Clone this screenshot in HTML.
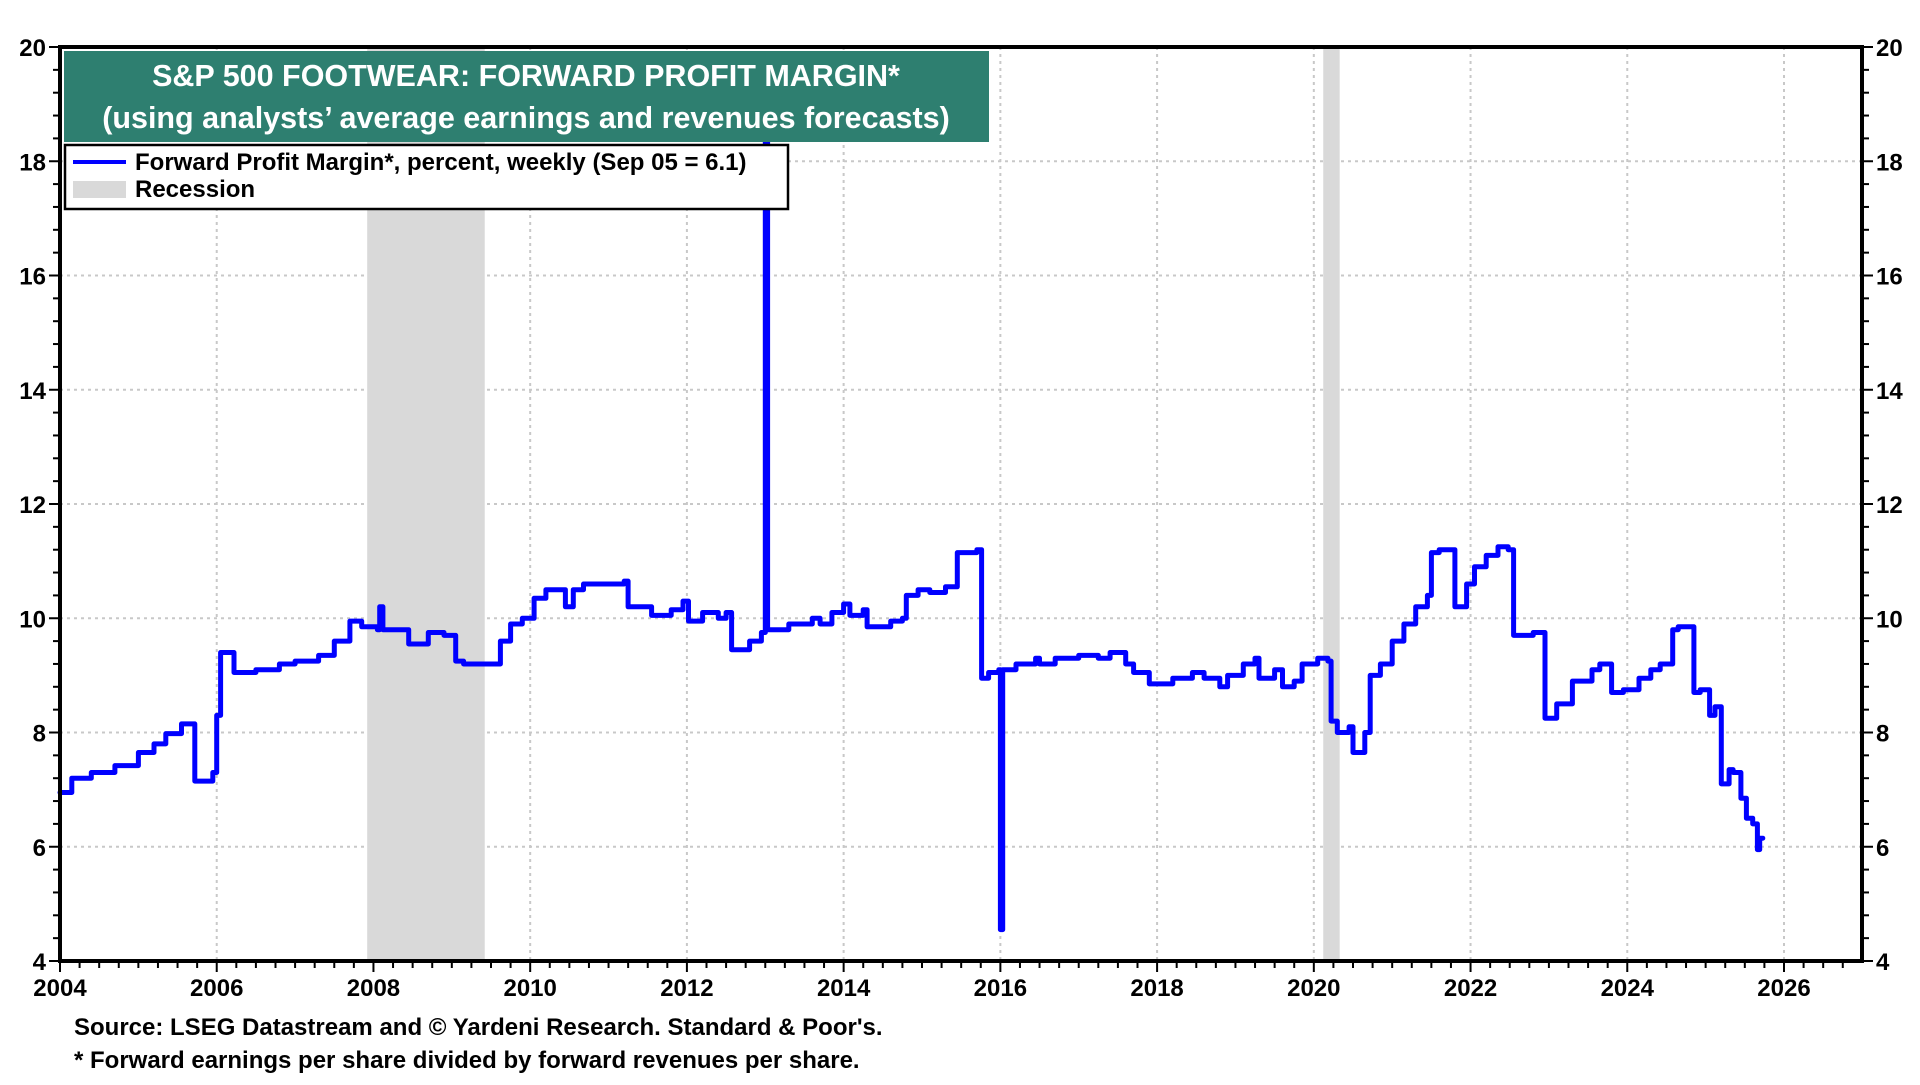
<!DOCTYPE html>
<html><head><meta charset="utf-8">
<style>
html,body{margin:0;padding:0;background:#fff;}
body{width:1920px;height:1080px;overflow:hidden;font-family:"Liberation Sans",Arial,sans-serif;}
</style></head>
<body>
<svg id="chart" width="1920" height="1080" xmlns="http://www.w3.org/2000/svg" font-family="Liberation Sans, Arial, sans-serif">
<g id="grid"></g>
<g id="rec"></g>
<g id="series"></g>
<g id="axes"></g>
<g>
<rect x="64" y="51" width="925" height="91" fill="#2e7f70"/>
<text x="526" y="86" text-anchor="middle" font-size="30.5" font-weight="bold" fill="#fff">S&amp;P 500 FOOTWEAR: FORWARD PROFIT MARGIN*</text>
<text x="526" y="128" text-anchor="middle" font-size="30.5" font-weight="bold" fill="#fff">(using analysts’ average earnings and revenues forecasts)</text>
</g>
<g>
<rect x="65" y="145" width="723" height="64" fill="#fff" stroke="#000" stroke-width="2.5"/>
<g>
<line x1="73" y1="162" x2="126" y2="162" stroke="#0000ff" stroke-width="4"/>
<text x="135" y="170" font-size="24" font-weight="bold">Forward Profit Margin*, percent, weekly (Sep 05 = 6.1)</text>
</g>
<g>
<rect x="73" y="181" width="53" height="17" fill="#d9d9d9"/>
<text x="135" y="197" font-size="24" font-weight="bold">Recession</text>
</g>
</g>
<text x="74" y="1035" font-size="24" font-weight="bold">Source: LSEG Datastream and © Yardeni Research. Standard &amp; Poor's.</text>
<text x="74" y="1068" font-size="24" font-weight="bold">* Forward earnings per share divided by forward revenues per share.</text>
</svg>
<script>
const dates=[2004.0,2004.15,2004.4,2004.7,2005.0,2005.2,2005.35,2005.55,2005.72,2005.95,2006.0,2006.05,2006.22,2006.5,2006.8,2007.0,2007.3,2007.5,2007.7,2007.85,2008.05,2008.08,2008.12,2008.45,2008.7,2008.9,2009.05,2009.15,2009.4,2009.62,2009.75,2009.9,2010.05,2010.2,2010.45,2010.55,2010.68,2010.95,2011.2,2011.25,2011.55,2011.8,2011.95,2012.02,2012.2,2012.4,2012.5,2012.57,2012.8,2012.95,2013.0,2013.03,2013.3,2013.6,2013.7,2013.85,2014.0,2014.08,2014.25,2014.3,2014.6,2014.75,2014.8,2014.95,2015.1,2015.3,2015.45,2015.7,2015.76,2015.85,2015.98,2016.0,2016.03,2016.2,2016.45,2016.5,2016.7,2017.0,2017.25,2017.4,2017.6,2017.7,2017.9,2018.2,2018.45,2018.6,2018.8,2018.9,2019.1,2019.25,2019.3,2019.5,2019.6,2019.75,2019.85,2020.05,2020.18,2020.22,2020.3,2020.45,2020.5,2020.65,2020.72,2020.85,2021.0,2021.15,2021.3,2021.45,2021.5,2021.6,2021.8,2021.95,2022.05,2022.2,2022.35,2022.48,2022.55,2022.8,2022.95,2023.1,2023.3,2023.55,2023.65,2023.8,2023.95,2024.15,2024.3,2024.42,2024.58,2024.65,2024.85,2024.93,2025.05,2025.12,2025.2,2025.3,2025.35,2025.45,2025.52,2025.6,2025.66,2025.69];
const values=[6.95,7.2,7.3,7.42,7.65,7.8,7.98,8.15,7.15,7.3,8.3,9.4,9.05,9.1,9.2,9.25,9.35,9.6,9.95,9.85,9.8,10.2,9.8,9.55,9.75,9.7,9.25,9.2,9.2,9.6,9.9,10.0,10.35,10.5,10.2,10.5,10.6,10.6,10.65,10.2,10.05,10.15,10.3,9.95,10.1,10.0,10.1,9.45,9.6,9.75,18.6,9.8,9.9,10.0,9.9,10.1,10.25,10.05,10.15,9.85,9.95,10.0,10.4,10.5,10.45,10.55,11.15,11.2,8.95,9.05,9.1,4.55,9.1,9.2,9.3,9.2,9.3,9.35,9.3,9.4,9.2,9.05,8.85,8.95,9.05,8.95,8.8,9.0,9.2,9.3,8.95,9.1,8.8,8.9,9.2,9.3,9.25,8.2,8.0,8.1,7.65,8.0,9.0,9.2,9.6,9.9,10.2,10.4,11.15,11.2,10.2,10.6,10.9,11.1,11.25,11.2,9.7,9.75,8.25,8.5,8.9,9.1,9.2,8.7,8.75,8.95,9.1,9.2,9.8,9.85,8.7,8.75,8.3,8.45,7.1,7.35,7.3,6.85,6.5,6.4,5.95,6.15,6.1];
const endDate=2025.73;
const recStart=[2007.92,2020.12];
const recEnd=[2009.42,2020.33];
const yTicks=[4,6,8,10,12,14,16,18,20];
const xTicks=[2004,2006,2008,2010,2012,2014,2016,2018,2020,2022,2024,2026];
const NS="http://www.w3.org/2000/svg";
const L=60,R=1862,T=47,B=961;
const x=d=>L+(d-2004)*(1784-60)/22;
const y=v=>B-(v-4)*(B-T)/16;
function mk(tag,attrs,parent){const e=document.createElementNS(NS,tag);for(const k in attrs)e.setAttribute(k,attrs[k]);parent.appendChild(e);return e;}
const grid=document.getElementById('grid'),rec=document.getElementById('rec'),ser=document.getElementById('series'),ax=document.getElementById('axes');
yTicks.forEach(v=>{if(v>4&&v<20){const g=mk('line',{x1:L,x2:R,y1:y(v),y2:y(v),stroke:'#c8c8c8','stroke-width':2,'stroke-dasharray':'3,4'},grid);

}});
xTicks.forEach(d=>{if(d>2004){const g=mk('line',{x1:x(d),x2:x(d),y1:T,y2:B,stroke:'#c8c8c8','stroke-width':2,'stroke-dasharray':'3,4'},grid);

}});
recStart.forEach((s,i)=>{const r=mk('rect',{x:x(s),y:T,width:x(recEnd[i])-x(s),height:B-T,fill:'#d9d9d9'},rec);

});
let dstr='';
dates.forEach((d,i)=>{const nx=i<dates.length-1?dates[i+1]:endDate;
dstr+=(i===0?'M':'L')+x(d).toFixed(1)+','+y(values[i]).toFixed(1)+'L'+x(nx).toFixed(1)+','+y(values[i]).toFixed(1);});
const p=mk('path',{d:dstr,fill:'none',stroke:'#0000ff','stroke-width':5,'stroke-linejoin':'round','stroke-linecap':'round'},ser);


const frame=mk('rect',{x:L,y:T,width:R-L,height:B-T,fill:'none',stroke:'#000','stroke-width':4},ax);


for(let v=4;v<=20.001;v+=0.4){const maj=Math.abs(v-Math.round(v))<0.01&&Math.round(v)%2===0;const len=maj?9:5;
mk('line',{x1:L-2-len,x2:L-2,y1:y(v),y2:y(v),stroke:'#000','stroke-width':2},ax);
mk('line',{x1:R+2,x2:R+2+len,y1:y(v),y2:y(v),stroke:'#000','stroke-width':2},ax);}
for(let d=2004;d<=2026.76;d+=0.25){const maj=Math.abs(d-Math.round(d))<0.01&&Math.round(d)%2===0;
mk('line',{x1:x(d),x2:x(d),y1:B+2,y2:B+(maj?11:7),stroke:'#000','stroke-width':2},ax);}
yTicks.forEach(v=>{const t1=mk('text',{x:L-14,y:y(v)+9,'text-anchor':'end','font-size':24,'font-weight':'bold'},ax);t1.textContent=v;


const t2=mk('text',{x:R+14,y:y(v)+9,'text-anchor':'start','font-size':24,'font-weight':'bold'},ax);t2.textContent=v;

});
xTicks.forEach(d=>{const t=mk('text',{x:x(d),y:B+35,'text-anchor':'middle','font-size':24,'font-weight':'bold'},ax);t.textContent=d;

});
</script>
</body></html>
